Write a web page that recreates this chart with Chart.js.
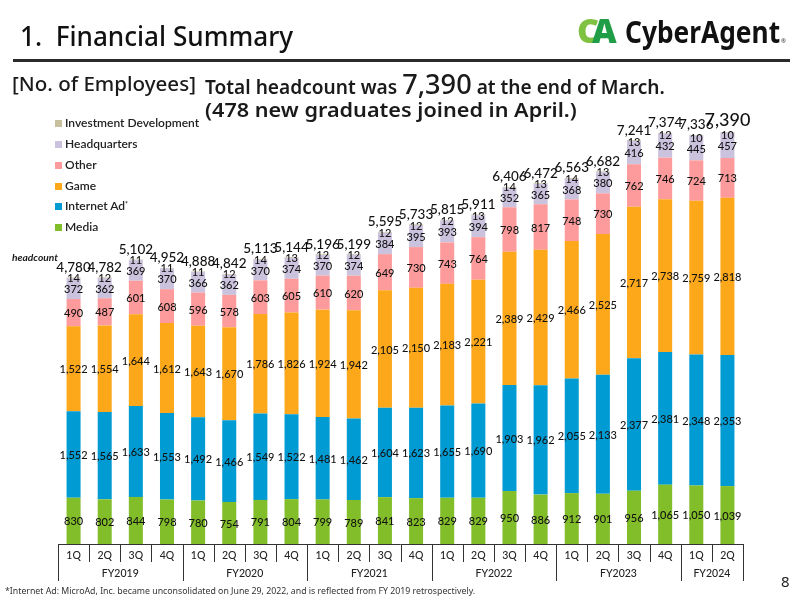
<!DOCTYPE html>
<html>
<head>
<meta charset="utf-8">
<script src="https://cdn.jsdelivr.net/npm/chart.js@4.4.1/dist/chart.umd.min.js"></script>
<style>
  html, body { margin: 0; padding: 0; background: #fff; }
  #wrap { position: relative; width: 800px; height: 600px; overflow: hidden; font-family: "Noto Sans", sans-serif; color: #1a1a1a; }
  #c { position: absolute; left: 0; top: 0; }
  .t { position: absolute; white-space: nowrap; transform-origin: 0 50%; line-height: 1; }
  .lg { position: absolute; left: 55px; font-family: "Lato", "Noto Sans", sans-serif; font-size: 12px; font-weight: 600; color: #222; white-space: nowrap; line-height: 1; }
  .lg i { display: inline-block; width: 7px; height: 7px; margin-right: 3px; vertical-align: 0px; }
  #rule { position: absolute; left: 13px; top: 59px; width: 777px; height: 3px; background: #2a2a2a; }
</style>
</head>
<body>
<div id="wrap">
  <canvas id="c" width="800" height="600"></canvas>
  <div id="rule"></div>
  <div class="t" id="title" data-w="273" style="left:20px; top:22px; font-size:27px; font-weight:500; color:#111;">1.&nbsp;&nbsp;Financial Summary</div>
  <div class="t" id="logoCA" style="left:577px; top:13px; font-size:34px; font-weight:900; letter-spacing:-7px;"><span style="color:#7fc241">C</span><span style="color:#1f9e47">A</span></div>
  <div class="t" id="logoTxt" data-w="155" style="left:625px; top:17px; font-size:30px; font-weight:700; color:#111;">CyberAgent</div>
  <div class="t" style="left:781px; top:38px; font-size:6px; color:#333;">®</div>
  <div class="t" id="h1" data-w="184" style="left:12px; top:75px; font-size:19px; font-weight:500;">[No. of Employees]</div>
  <div class="t" id="h2" data-w="460" style="left:205px; top:70px; font-size:19px; font-weight:600;">Total headcount was <span style="font-size:27px; font-weight:500;">7,390</span> at the end of March.</div>
  <div class="t" id="h3" data-w="372" style="left:205px; top:101px; font-size:19px; font-weight:600;">(478 new graduates joined in April.)</div>
  <div class="t" data-w="46" style="left:12px; top:253px; font-size:9.5px; font-weight:700; font-style:italic; font-family:Lato, sans-serif;">headcount</div>
  <div class="t" id="foot" data-w="470" style="left:5px; top:587px; font-size:8.5px; color:#333;">*Internet Ad: MicroAd, Inc. became unconsolidated on June 29, 2022, and is reflected from FY 2019 retrospectively.</div>
  <div class="t" style="left:781px; top:574px; font-size:15px; color:#222;">8</div>
  <div id="legend"></div>
</div>
<script>
// ---------------- data ----------------
const quarters = ["1Q","2Q","3Q","4Q","1Q","2Q","3Q","4Q","1Q","2Q","3Q","4Q","1Q","2Q","3Q","4Q","1Q","2Q","3Q","4Q","1Q","2Q"];
const fiscalYears = ["FY2019","FY2020","FY2021","FY2022","FY2023","FY2024"];
const quartersPerYear = [4,4,4,4,4,2];
const media = [830,802,844,798,780,754,791,804,799,789,841,823,829,829,950,886,912,901,956,1065,1050,1039];
const internetAd = [1552,1565,1633,1553,1492,1466,1549,1522,1481,1462,1604,1623,1655,1690,1903,1962,2055,2133,2377,2381,2348,2353];
const game = [1522,1554,1644,1612,1643,1670,1786,1826,1924,1942,2105,2150,2183,2221,2389,2429,2466,2525,2717,2738,2759,2818];
const other = [490,487,601,608,596,578,603,605,610,620,649,730,743,764,798,817,748,730,762,746,724,713];
const headquarters = [372,362,369,370,366,362,370,374,370,374,384,395,393,394,352,365,368,380,416,432,445,457];
const investmentDev = [14,12,11,11,11,12,14,13,12,12,12,12,12,13,14,13,14,13,13,12,10,10];
const totals = [4780,4782,5102,4952,4888,4842,5113,5144,5196,5199,5595,5733,5815,5911,6406,6472,6563,6682,7241,7374,7336,7390];
const seriesNames = ["Media","Internet Ad","Game","Other","Headquarters","Investment Development"];
const seriesColors = ["#82bd2a","#009bd3","#fca81a","#fd9b9c","#cbc3de","#c8bf9c"];
// --------------------------------------

const seriesData = [media, internetAd, game, other, headquarters, investmentDev];
const fmt = v => v.toLocaleString("en-US");

// legend (reverse order, top to bottom)
const legendY = [117, 138, 159, 180, 200, 221];
const lg = document.getElementById("legend");
for (let k = 0; k < 6; k++) {
  const idx = 5 - k;
  const d = document.createElement("div");
  d.className = "lg";
  d.style.top = legendY[k] + "px";
  d.innerHTML = '<i style="background:' + seriesColors[idx] + '"></i>' + seriesNames[idx] + (idx === 1 ? '<span style="font-size:7px;vertical-align:3px;">*</span>' : '');
  lg.appendChild(d);
}

const labelPlugin = {
  id: "labels",
  afterDatasetsDraw(chart) {
    const ctx = chart.ctx;
    ctx.save();
    ctx.fillStyle = "#111";
    ctx.textAlign = "center";
    ctx.textBaseline = "middle";
    const metas = [0,1,2,3,4,5].map(i => chart.getDatasetMeta(i));
    for (let i = 0; i < quarters.length; i++) {
      ctx.font = "500 11px Lato, 'Noto Sans', sans-serif";
      for (let s = 0; s < 5; s++) {
        const el = metas[s].data[i];
        const yc = (el.y + el.base) / 2;
        ctx.fillText(fmt(seriesData[s][i]), el.x, yc + 1);
      }
      const hq = metas[4].data[i];
      const hqc = (hq.y + hq.base) / 2;
      ctx.fillText(fmt(investmentDev[i]), hq.x, hqc - 10);
      const top = metas[5].data[i];
      const last = i === quarters.length - 1;
      ctx.font = last ? "500 18px Lato, 'Noto Sans', sans-serif" : "500 13.5px Lato, 'Noto Sans', sans-serif";
      ctx.fillText(fmt(totals[i]), top.x, top.y - (last ? 12 : 10));
    }
    ctx.restore();
  }
};

const axisTablePlugin = {
  id: "axisTable",
  afterDraw(chart) {
    const ctx = chart.ctx;
    const x = chart.scales.x;
    const y0 = chart.chartArea.bottom;
    const step = x.getPixelForValue(1) - x.getPixelForValue(0);
    const left = x.getPixelForValue(0) - step / 2;
    const right = x.getPixelForValue(quarters.length - 1) + step / 2;
    ctx.save();
    ctx.strokeStyle = "#333";
    ctx.lineWidth = 1;
    ctx.beginPath();
    ctx.moveTo(left, y0 + 0.5);
    ctx.lineTo(right, y0 + 0.5);
    ctx.stroke();
    const yearStarts = new Set();
    let acc = 0;
    yearStarts.add(0);
    quartersPerYear.forEach(n => { acc += n; yearStarts.add(acc); });
    for (let i = 0; i <= quarters.length; i++) {
      const px = Math.round(left + i * step) + 0.5;
      const isYear = yearStarts.has(i);
      ctx.beginPath();
      ctx.moveTo(px, y0);
      ctx.lineTo(px, isYear ? y0 + 37 : y0 + 18);
      ctx.stroke();
    }
    ctx.fillStyle = "#222";
    ctx.textAlign = "center";
    ctx.textBaseline = "middle";
    ctx.font = "500 10.5px Lato, 'Noto Sans', sans-serif";
    quarters.forEach((q, i) => ctx.fillText(q, x.getPixelForValue(i), y0 + 12));
    acc = 0;
    fiscalYears.forEach((fy, j) => {
      const a = left + acc * step;
      acc += quartersPerYear[j];
      const b = left + acc * step;
      ctx.fillText(fy, (a + b) / 2, y0 + 30);
    });
    ctx.restore();
  }
};

new Chart(document.getElementById("c"), {
  type: "bar",
  data: {
    labels: quarters,
    datasets: seriesData.map((d, i) => ({
      label: seriesNames[i],
      data: d,
      backgroundColor: seriesColors[i],
      borderWidth: 0,
      barPercentage: 0.45,
      categoryPercentage: 1.0
    }))
  },
  options: {
    responsive: false,
    animation: false,
    layout: { padding: { left: 58, right: 57, top: 98, bottom: 56 } },
    plugins: { legend: { display: false }, tooltip: { enabled: false } },
    scales: {
      x: { stacked: true, display: false },
      y: { stacked: true, display: false, min: 0, max: 8000 }
    }
  },
  plugins: [labelPlugin, axisTablePlugin]
});

// fit text widths
document.querySelectorAll("[data-w]").forEach(el => {
  const w = el.getBoundingClientRect().width;
  const target = parseFloat(el.dataset.w);
  if (w > 0) el.style.transform = "scaleX(" + (target / w).toFixed(3) + ")";
});
</script>
</body>
</html>
